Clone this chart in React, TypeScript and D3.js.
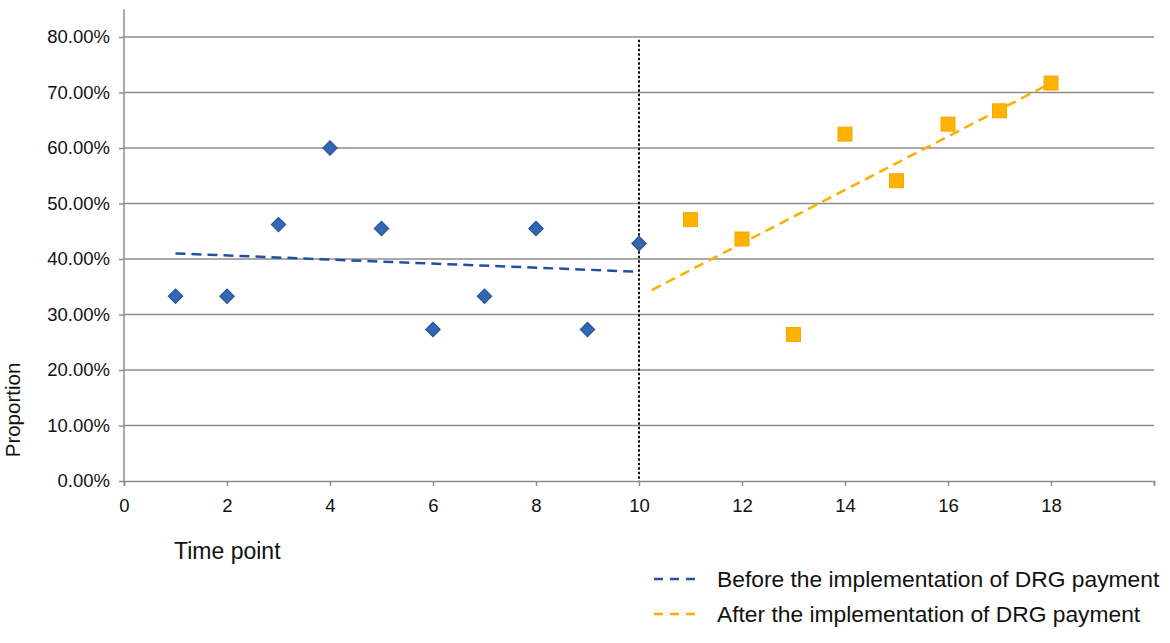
import React, { useEffect, useRef } from "react"
import * as d3 from "d3"

// values
const beforeTimes = [1, 2, 3, 4, 5, 6, 7, 8, 9, 10]
const beforeValues = [0.333, 0.333, 0.462, 0.6, 0.455, 0.273, 0.333, 0.455, 0.273, 0.428]
const afterTimes = [11, 12, 13, 14, 15, 16, 17, 18]
const afterValues = [0.471, 0.436, 0.264, 0.625, 0.541, 0.643, 0.667, 0.717]

// fitted trend lines [x, y]
const beforeTrend: [number, number][] = [[1, 0.41], [10, 0.377]]
const afterTrend: [number, number][] = [[10.25, 0.344], [18, 0.717]]

const xTicks = [0, 2, 4, 6, 8, 10, 12, 14, 16, 18]
const yTicks = [0, 0.1, 0.2, 0.3, 0.4, 0.5, 0.6, 0.7, 0.8]
const cutPoint = 10

const legendItems = [
  { label: "Before the implementation of DRG payment", color: "#2250a0" },
  { label: "After the implementation of DRG payment", color: "#ffad00" },
]

const width = 1170
const height = 643
const font = "'Liberation Sans', Arial, sans-serif"

export default function App() {
  const svgRef = useRef<SVGSVGElement>(null)

  useEffect(() => {
    document.body.style.margin = "0"
    const svg = d3.select(svgRef.current)
    svg.selectAll("*").remove()

    const x = d3.scaleLinear().domain([0, 20]).range([124, 1154])
    const y = d3.scaleLinear().domain([0, 0.8]).range([481, 37])

    const g = svg.append("g")

    // gridlines
    g.selectAll(".grid")
      .data(yTicks.slice(1))
      .enter()
      .append("line")
      .attr("x1", x(0))
      .attr("x2", x(20))
      .attr("y1", (d) => y(d))
      .attr("y2", (d) => y(d))
      .attr("stroke", "#8c8c8c")
      .attr("stroke-width", 1.5)

    // y axis
    const yAxis = g
      .append("g")
      .attr("transform", `translate(${x(0)},0)`)
      .call(
        d3
          .axisLeft(y)
          .tickValues(yTicks)
          .tickSize(5)
          .tickPadding(9)
          .tickFormat((d) => d3.format(".2%")(d as number)),
      )
    yAxis.select(".domain").attr("d", `M0,${y(0.85)}V${y(0)}`)

    // x axis
    const xAxis = g
      .append("g")
      .attr("transform", `translate(0,${y(0)})`)
      .call(d3.axisBottom(x).tickValues([...xTicks, 20]).tickSize(5).tickPadding(13))
    xAxis.selectAll(".tick text").filter((d) => d === 20).remove()

    g.selectAll(".domain, .tick line").attr("stroke", "#8c8c8c").attr("stroke-width", 1.5)
    g.selectAll(".tick text").attr("font-family", font).attr("font-size", 18.5).attr("fill", "#111")

    // vertical divider
    g.append("line")
      .attr("x1", x(cutPoint))
      .attr("x2", x(cutPoint))
      .attr("y1", y(0.795))
      .attr("y2", y(0))
      .attr("stroke", "#111")
      .attr("stroke-width", 2)
      .attr("stroke-dasharray", "2.5,2")

    const line = d3
      .line<[number, number]>()
      .x((d) => x(d[0]))
      .y((d) => y(d[1]))

    g.append("path")
      .attr("d", line(beforeTrend))
      .attr("fill", "none")
      .attr("stroke", legendItems[0].color)
      .attr("stroke-width", 2.5)
      .attr("stroke-dasharray", "10,6")

    g.append("path")
      .attr("d", line(afterTrend))
      .attr("fill", "none")
      .attr("stroke", legendItems[1].color)
      .attr("stroke-width", 2.5)
      .attr("stroke-dasharray", "10,6")

    // diamonds
    const diamond = d3.symbol().type(d3.symbolSquare).size(105)
    g.selectAll(".before")
      .data(beforeTimes)
      .enter()
      .append("path")
      .attr("d", diamond())
      .attr("transform", (d, i) => `translate(${x(d)},${y(beforeValues[i])}) rotate(45)`)
      .attr("fill", "#3366b3")
      .attr("stroke", "#24508f")
      .attr("stroke-width", 1)

    // squares
    const sq = 14
    g.selectAll(".after")
      .data(afterTimes)
      .enter()
      .append("rect")
      .attr("x", (d) => x(d) - sq / 2)
      .attr("y", (d, i) => y(afterValues[i]) - sq / 2)
      .attr("width", sq)
      .attr("height", sq)
      .attr("fill", "#ffb300")
      .attr("stroke", "#f5a800")
      .attr("stroke-width", 1)

    // axis titles
    g.append("text")
      .attr("transform", `translate(20,410) rotate(-90)`)
      .attr("text-anchor", "middle")
      .attr("font-family", font)
      .attr("font-size", 20.5)
      .attr("fill", "#111")
      .text("Proportion")

    g.append("text")
      .attr("x", 174)
      .attr("y", 559)
      .attr("font-family", font)
      .attr("font-size", 23)
      .attr("fill", "#111")
      .text("Time point")

    // legend
    const legend = g
      .selectAll(".legend")
      .data(legendItems)
      .enter()
      .append("g")
      .attr("transform", (d, i) => `translate(654,${579 + i * 35})`)

    legend
      .append("line")
      .attr("x1", 0)
      .attr("x2", 46)
      .attr("stroke", (d) => d.color)
      .attr("stroke-width", 2.5)
      .attr("stroke-dasharray", "9,7")

    legend
      .append("text")
      .attr("x", 63)
      .attr("y", 8)
      .attr("font-family", font)
      .attr("font-size", 22.8)
      .attr("fill", "#111")
      .text((d) => d.label)
  }, [])

  return <svg ref={svgRef} width={width} height={height} style={{ display: "block", background: "#fff" }}></svg>
}
